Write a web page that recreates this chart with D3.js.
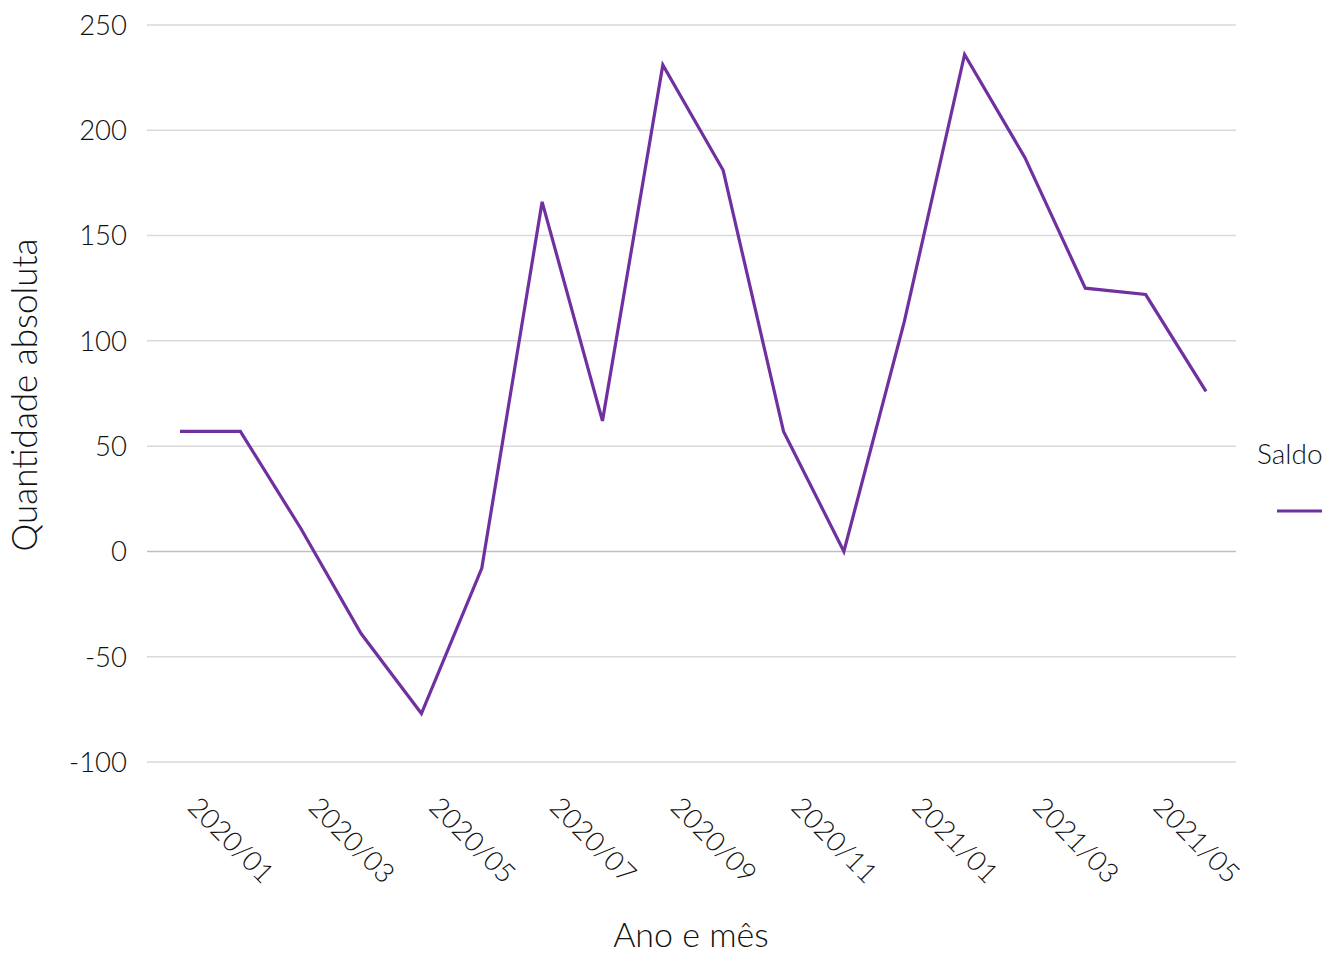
<!DOCTYPE html>
<html><head><meta charset="utf-8">
<script src="https://cdn.jsdelivr.net/npm/d3@7"></script>
<style>
body{margin:0;background:#fff;}
text{font-family:Lato,"Open Sans",sans-serif;font-weight:300;fill:#111;}
</style></head>
<body><svg id="c" width="1334" height="955"></svg>
<script>
const months = ["2020/01","2020/02","2020/03","2020/04","2020/05","2020/06","2020/07","2020/08","2020/09","2020/10","2020/11","2020/12","2021/01","2021/02","2021/03","2021/04","2021/05","2021/06"];
const saldo = [57,57,11,-39,-77,-8,166,62,231,181,57,0,109,236,187,125,122,76];
const yTicks = [-100,-50,0,50,100,150,200,250];
const xTickLabels = ["2020/01","2020/03","2020/05","2020/07","2020/09","2020/11","2021/01","2021/03","2021/05"];

(function(){
const svg = d3.select("#c");
const mLeft = 147, mRight = 1236, mTop = 25, mBottom = 762;
const x = d3.scalePoint().domain(months).range([180,1206]);
const y = d3.scaleLinear().domain([-100,250]).range([mBottom, mTop]);

const g = svg.append("g");
g.selectAll("line.grid").data(yTicks).join("line")
  .attr("x1", mLeft).attr("x2", mRight)
  .attr("y1", d=>y(d)).attr("y2", d=>y(d))
  .attr("stroke", d=> d===0 ? "#bfbfbf" : "#d9d9d9").attr("stroke-width", 1.5);

g.selectAll("text.yt").data(yTicks).join("text")
  .attr("x", 127).attr("y", d=>y(d)).attr("dy","0.36em")
  .attr("text-anchor","end").attr("font-size",27.5).text(d=>d);

g.selectAll("text.xt").data(xTickLabels).join("text")
  .attr("transform", d=>`translate(${x(d)+13},${802}) rotate(45)`)
  .attr("text-anchor","start").attr("font-size",27.5).attr("dy","0.35em").text(d=>d);

const line = d3.line().x((d,i)=>x(months[i])).y(d=>y(d));
g.append("path").datum(saldo).attr("d", line)
  .attr("fill","none").attr("stroke","#7030a0").attr("stroke-width",3.2).attr("stroke-linejoin","miter");

svg.append("text").attr("x",691).attr("y",947).attr("text-anchor","middle").attr("font-size",34).text("Ano e mês");
svg.append("text").attr("transform","translate(37,395) rotate(-90)").attr("text-anchor","middle").attr("font-size",35).text("Quantidade absoluta");

svg.append("text").attr("x",1257).attr("y",464).attr("font-size",28).text("Saldo");
svg.append("line").attr("x1",1277).attr("x2",1322).attr("y1",511).attr("y2",511).attr("stroke","#7030a0").attr("stroke-width",3.2);
})();
</script></body></html>
